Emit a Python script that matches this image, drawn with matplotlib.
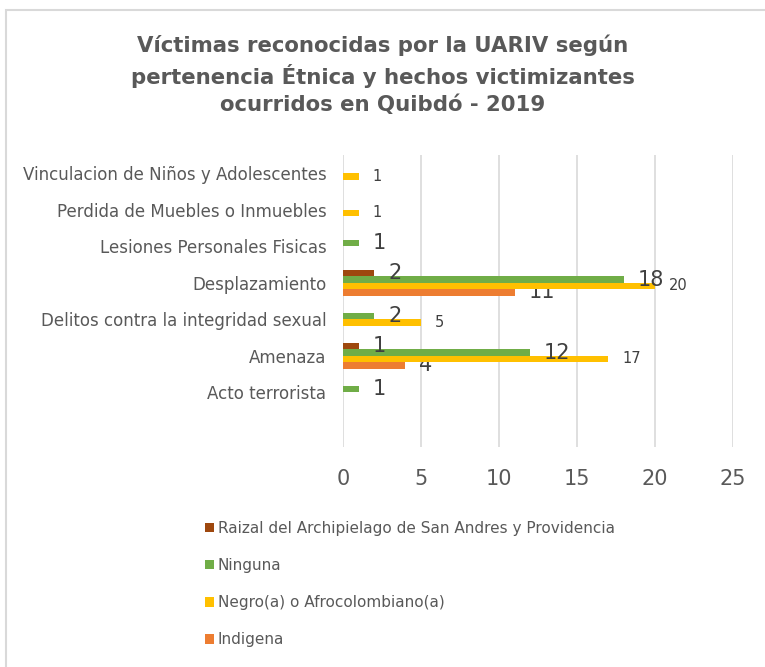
import matplotlib
matplotlib.use('Agg')
from matplotlib import pyplot as plt
from matplotlib.patches import Rectangle
import numpy as np

categorias = ['Acto terrorista', 'Amenaza', 'Delitos contra la integridad sexual',
              'Desplazamiento', 'Lesiones Personales Fisicas',
              'Perdida de Muebles o Inmuebles', 'Vinculacion de Niños y Adolescentes']
indigena = [0, 4, 0, 11, 0, 0, 0]
negro = [0, 17, 5, 20, 0, 1, 1]
ninguna = [1, 12, 2, 18, 1, 0, 0]
raizal = [0, 1, 0, 2, 0, 0, 0]
series = ['Indigena', 'Negro(a) o Afrocolombiano(a)', 'Ninguna',
          'Raizal del Archipielago de San Andres y Providencia']
xticks = [0, 5, 10, 15, 20, 25]

colores = ['#ED7D31', '#FFC000', '#70AD47', '#9E480E']
gris = '#595959'

plt.rcParams['font.family'] = ['DejaVu Sans']

fig = plt.figure(figsize=(7.65, 6.67), dpi=100)
ax = fig.add_axes([343 / 765, 1 - 447 / 667, 390 / 765, 292 / 667])

y = np.arange(len(categorias))
h = 0.178
datos = [indigena, negro, ninguna, raizal]
offs = [-1.5, -0.5, 0.5, 1.5]
tam = [15, 10.5, 15, 15]
for vals, off, col, nom, fs in zip(datos, offs, colores, series, tam):
    bars = ax.barh(y + off * h, vals, height=h, color=col, label=nom, zorder=3)
    etiquetas = [str(v) if v else '' for v in vals]
    ax.bar_label(bars, labels=etiquetas, padding=10, fontsize=fs, color='#404040')

ax.set_xlim(0, 25)
ax.set_ylim(-1.5, 6.5)
ax.set_xticks(xticks)
ax.set_xticklabels([str(t) for t in xticks], fontsize=15, color=gris)
ax.set_yticks(y)
ax.set_yticklabels(categorias, fontsize=12, color=gris)
ax.tick_params(axis='both', length=0)
ax.tick_params(axis='x', pad=16)
ax.tick_params(axis='y', pad=12)
ax.grid(axis='x', color='#D9D9D9', linewidth=1.2, zorder=0)
for s in ax.spines.values():
    s.set_visible(False)

fig.suptitle('Víctimas reconocidas por la UARIV según\npertenencia Étnica y hechos victimizantes\nocurridos en Quibdó - 2019',
             x=0.5, y=1 - 34 / 667, fontsize=15.3, fontweight='bold', color=gris,
             linespacing=1.4)

handles, labels = ax.get_legend_handles_labels()
fig.legend(handles[::-1], labels[::-1], loc='upper left',
           bbox_to_anchor=(191 / 765, 1 - 507 / 667), frameon=False,
           fontsize=11, labelcolor=gris, handlelength=0.6, handleheight=0.6,
           handletextpad=0.25, labelspacing=1.45)

fig.patches.append(Rectangle((6 / 765, -0.01), 1.0, 1 - 10 / 667 + 0.01,
                             transform=fig.transFigure, fill=False,
                             edgecolor='#D9D9D9', linewidth=1.5))

fig.savefig('out.png', dpi=100)
